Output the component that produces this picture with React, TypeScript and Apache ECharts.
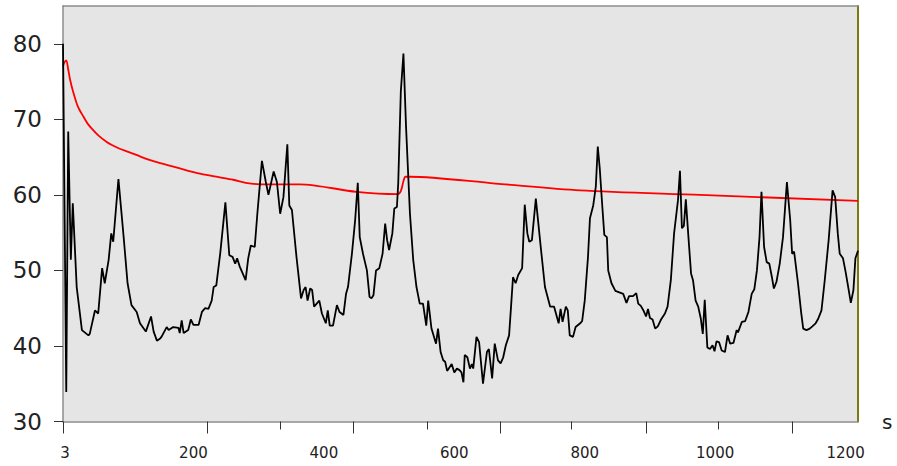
import React, { useEffect, useRef } from "react";
import * as echarts from "echarts";

// Black series (time in s, value)
const blackTimes = [
  0, 5, 8, 12, 15, 21, 29, 39, 41, 49,
  54, 60, 64, 70, 74, 77, 85, 93, 99, 105,
  113, 118, 127, 135, 139, 144, 149, 151, 159, 162,
  169, 177, 179, 182, 185, 192, 196, 200, 208, 213,
  218, 223, 228, 231, 235, 241, 249, 255, 260, 264,
  267, 271, 280, 284, 288, 294, 298, 305, 311, 315,
  323, 328, 333, 338, 344, 347, 351, 358, 365, 369,
  372, 375, 379, 382, 385, 389, 393, 397, 403, 406,
  409, 414, 420, 424, 430, 434, 437, 443, 448, 452,
  455, 460, 466, 470, 473, 476, 480, 485, 490, 494,
  497, 500, 505, 508, 512, 514, 518, 522, 526, 532,
  537, 542, 547, 552, 557, 560, 565, 572, 575, 579,
  583, 586, 589, 596, 600, 604, 608, 611, 614, 616,
  620, 624, 627, 629, 634, 638, 644, 650, 653, 658,
  662, 667, 671, 675, 679, 684, 687, 690, 694, 698,
  704, 708, 712, 715, 719, 725, 733, 739, 747, 753,
  760, 763, 766, 771, 774, 777, 782, 786, 793, 796,
  800, 805, 808, 813, 817, 820, 823, 827, 830, 834,
  836, 841, 847, 853, 859, 864, 868, 874, 879, 882,
  886, 890, 894, 897, 900, 904, 908, 912, 917, 923,
  927, 932, 937, 943, 946, 949, 952, 955, 959, 963,
  966, 970, 974, 978, 981, 984, 988, 992, 996, 999,
  1002, 1006, 1010, 1015, 1019, 1023, 1028, 1033, 1035, 1041,
  1046, 1051, 1056, 1060, 1064, 1068, 1071, 1075, 1079, 1083,
  1087, 1090, 1094, 1099, 1104, 1110, 1115, 1118, 1121, 1127,
  1132, 1135, 1140, 1145, 1149, 1154, 1158, 1163, 1168, 1174,
  1180, 1184, 1188, 1191, 1196, 1200, 1204, 1208, 1212, 1215,
  1219,
];
const blackValues = [
  80.0, 33.9, 68.4, 51.4, 58.9, 47.8, 42.1, 41.4, 41.6, 44.7,
  44.3, 50.3, 48.3, 51.4, 54.9, 53.8, 62.1, 54.4, 48.3, 45.4,
  44.5, 43.0, 41.9, 43.9, 41.9, 40.7, 41.0, 41.2, 42.5, 42.1,
  42.5, 42.4, 41.7, 43.4, 41.7, 42.1, 43.5, 42.8, 42.8, 44.5,
  45.0, 44.9, 46.0, 47.8, 48.0, 52.2, 59.0, 52.0, 51.8, 50.9,
  51.6, 50.5, 48.7, 51.6, 53.3, 53.1, 57.5, 64.5, 61.7, 60.0,
  63.1, 61.7, 57.5, 59.7, 66.7, 58.6, 58.0, 51.8, 46.3, 47.4,
  47.8, 46.0, 47.6, 47.4, 45.2, 45.6, 46.0, 44.3, 43.0, 44.7,
  42.7, 42.7, 45.4, 44.5, 44.1, 46.9, 47.8, 52.2, 56.7, 61.6,
  54.4, 52.2, 50.0, 46.5, 46.3, 46.7, 50.0, 50.3, 52.2, 56.2,
  54.0, 52.7, 54.9, 58.2, 58.4, 61.5, 73.7, 78.7, 69.0, 57.5,
  51.4, 47.8, 45.6, 45.6, 42.7, 46.0, 42.3, 40.3, 42.3, 39.2,
  38.1, 37.9, 36.7, 37.6, 36.5, 37.0, 36.8, 36.5, 35.2, 38.8,
  38.5, 37.0, 37.6, 37.0, 41.2, 40.5, 35.0, 39.2, 39.6, 35.7,
  40.3, 38.1, 37.7, 38.5, 40.1, 41.4, 45.2, 49.1, 48.3, 49.4,
  50.3, 58.7, 54.9, 53.8, 54.0, 59.5, 52.7, 47.8, 45.2, 45.2,
  43.0, 44.9, 43.2, 45.2, 44.7, 41.4, 41.2, 42.5, 43.0, 43.3,
  46.0, 51.8, 56.9, 58.6, 61.1, 66.4, 63.5, 58.4, 54.7, 54.4,
  50.0, 48.3, 47.3, 47.1, 46.9, 45.7, 46.6, 46.6, 47.0, 45.6,
  45.3, 44.7, 43.9, 44.9, 43.7, 43.5, 42.3, 42.6, 43.5, 44.3,
  45.2, 48.7, 54.9, 59.3, 63.2, 55.6, 55.9, 59.4, 54.4, 49.6,
  48.7, 46.0, 45.2, 43.6, 41.6, 46.1, 39.8, 39.6, 40.1, 39.3,
  40.6, 40.5, 39.4, 39.2, 41.4, 40.3, 40.4, 42.1, 41.8, 43.2,
  43.3, 44.5, 46.9, 47.5, 50.0, 54.4, 60.4, 53.1, 51.1, 50.9,
  49.1, 47.6, 48.5, 50.9, 54.4, 61.7, 56.7, 52.2, 52.5, 48.3,
  44.3, 42.3, 42.1, 42.3, 42.6, 43.0, 43.6, 44.7, 48.7, 54.0,
  60.6, 59.7, 54.9, 52.2, 51.6, 49.8, 47.8, 45.7, 47.4, 51.6,
  52.6,
];

// Red series
const redTimes = [
  0, 2, 5, 8, 11, 15, 21, 25, 31, 38, 46, 55, 67, 75, 87, 100, 118, 130, 149, 175,
  210, 235, 261, 280, 302, 337, 363, 450, 513, 518, 522, 525, 532, 663, 793, 977, 1219,
];
const redValues = [
  77.0, 77.5, 77.8, 76.6, 75.2, 73.8, 72.1, 71.3, 70.4, 69.4, 68.6, 67.8, 67.0, 66.6, 66.1, 65.7, 65.1, 64.7, 64.2, 63.6,
  62.8, 62.4, 62.0, 61.6, 61.4, 61.4, 61.4, 60.4, 60.1, 60.5, 61.8, 62.4, 62.4, 61.5, 60.6, 60.0, 59.2,
];

// Axis labels / ticks
const xLabelValues = [3, 200, 400, 600, 800, 1000, 1200];
const xMajorTicks = [0, 221, 445, 670, 894, 1118];
const xMinorTicks = [333, 558, 780, 1004];
const yLabelValues = [30, 40, 50, 60, 70, 80];
const X_MIN = 0;
const X_MAX = 1219;
const Y_MIN = 30;
const Y_MAX = 85;

export default function App() {
  const ref = useRef<HTMLDivElement>(null);
  useEffect(() => {
    if (!ref.current) return;
    const chart = echarts.init(ref.current, undefined, { renderer: "svg" });
    const axisGrey = "#8c8c8c";
    const tickColor = "#333333";
    const font = "DejaVu Sans";
    const plain = (v: number) => String(v);
    chart.setOption({
      animation: false,
      backgroundColor: "#ffffff",
      grid: {
        left: 63,
        right: 39,
        top: 6,
        bottom: 44.5,
        show: true,
        backgroundColor: "#e5e5e5",
        borderWidth: 0,
      },
      xAxis: [
        {
          type: "value",
          min: X_MIN,
          max: X_MAX,
          position: "bottom",
          name: "s",
          nameLocation: "end",
          nameGap: 24,
          nameTextStyle: { fontFamily: font, fontSize: 20, color: "#222", verticalAlign: "middle" },
          axisLine: { show: true, onZero: false, lineStyle: { color: axisGrey, width: 1.5 } },
          axisTick: { show: true, customValues: xMajorTicks, length: 12, lineStyle: { color: tickColor, width: 1 } },
          axisLabel: {
            customValues: xLabelValues,
            formatter: plain,
            fontFamily: font,
            fontSize: 15,
            color: "#222",
            margin: 24,
          },
          splitLine: { show: false },
        },
        {
          type: "value",
          min: X_MIN,
          max: X_MAX,
          position: "bottom",
          axisLine: { show: false, onZero: false },
          axisTick: { show: true, customValues: xMinorTicks, length: 8, lineStyle: { color: tickColor, width: 1 } },
          axisLabel: { show: false },
          splitLine: { show: false },
        },
        {
          type: "value",
          min: X_MIN,
          max: X_MAX,
          position: "top",
          axisLine: { show: true, onZero: false, lineStyle: { color: axisGrey, width: 1.5 } },
          axisTick: { show: false },
          axisLabel: { show: false },
          splitLine: { show: false },
        },
      ],
      yAxis: [
        {
          type: "value",
          min: Y_MIN,
          max: Y_MAX,
          position: "left",
          axisLine: { show: true, onZero: false, lineStyle: { color: axisGrey, width: 1.5 } },
          axisTick: { show: true, customValues: yLabelValues, length: 9, lineStyle: { color: tickColor, width: 1 } },
          axisLabel: {
            customValues: yLabelValues,
            formatter: plain,
            fontFamily: font,
            fontSize: 23,
            color: "#222",
            margin: 21,
          },
          splitLine: { show: false },
        },
        {
          type: "value",
          min: Y_MIN,
          max: Y_MAX,
          position: "right",
          axisLine: { show: true, onZero: false, lineStyle: { color: "#7a7a10", width: 2 } },
          axisTick: { show: false },
          axisLabel: { show: false },
          splitLine: { show: false },
        },
      ],
      series: [
        {
          type: "line",
          xAxisIndex: 0,
          yAxisIndex: 0,
          data: redTimes.map((t, i) => [t, redValues[i]]),
          showSymbol: false,
          symbol: "none",
          smooth: 0.3,
          lineStyle: { color: "#ff0000", width: 1.8 },
          silent: true,
        },
        {
          type: "line",
          xAxisIndex: 0,
          yAxisIndex: 0,
          data: blackTimes.map((t, i) => [t, blackValues[i]]),
          showSymbol: false,
          symbol: "none",
          lineStyle: { color: "#000000", width: 1.8 },
          silent: true,
        },
      ],
    });
    return () => chart.dispose();
  }, []);
  return (
    <div
      ref={ref}
      style={{ position: "fixed", left: 0, top: 0, width: 897, height: 466 }}
    />
  );
}
